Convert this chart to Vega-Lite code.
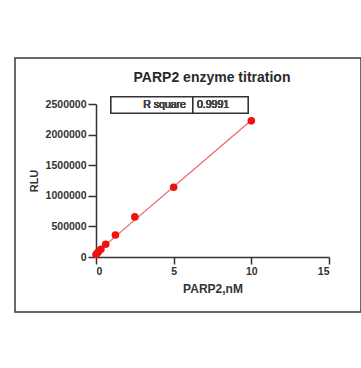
{
  "$schema": "https://vega.github.io/schema/vega-lite/v6.json",
  "autosize": {"type": "none"},
  "width": 346,
  "height": 254,
  "padding": {"left": 15, "top": 58, "right": 0, "bottom": 56},
  "background": "white",
  "config": {
    "view": {"stroke": "#3a3a3a", "strokeWidth": 1.5},
    "font": "Liberation Sans"
  },
  "title": {
    "text": "PARP2 enzyme titration",
    "fontSize": 14,
    "fontWeight": "bold",
    "font": "Liberation Sans",
    "color": "#2a2a2a",
    "anchor": "middle",
    "dx": 24,
    "dy": 31
  },
  "data": {
    "values": [
      {"conc": 0, "RLU": 40000},
      {"conc": 0.078, "RLU": 60000},
      {"conc": 0.156, "RLU": 85000},
      {"conc": 0.3125, "RLU": 125000},
      {"conc": 0.625, "RLU": 208000},
      {"conc": 1.25, "RLU": 360000},
      {"conc": 2.5, "RLU": 655000},
      {"conc": 5, "RLU": 1140000},
      {"conc": 10, "RLU": 2225000}
    ]
  },
  "layer": [
    {
      "transform": [{"regression": "RLU", "on": "conc"}],
      "mark": {"type": "line", "color": "#f06060", "strokeWidth": 1.2},
      "encoding": {
        "x": {
          "field": "conc", "type": "quantitative",
          "scale": {"domain": [0, 15], "range": [81, 314], "nice": false},
          "axis": {
            "orient": "bottom", "offset": -55, "values": [0, 5, 10, 15],
            "grid": false, "title": "PARP2,nM",
            "labelFontSize": 10.5, "labelFontWeight": "bold", "labelColor": "#333",
            "labelPadding": 2, "tickSize": 7, "tickWidth": 1.5, "tickColor": "#333",
            "domainColor": "#333", "domainWidth": 1.5,
            "titleFontSize": 12, "titleFontWeight": "bold", "titleColor": "#333",
            "titlePadding": 7
          }
        },
        "y": {
          "field": "RLU", "type": "quantitative",
          "scale": {"domain": [0, 2500000], "range": [199, 46], "nice": false},
          "axis": {
            "orient": "left", "offset": -81,
            "values": [0, 500000, 1000000, 1500000, 2000000, 2500000],
            "format": "d", "grid": false, "title": "RLU",
            "labelFontSize": 10.5, "labelFontWeight": "bold", "labelColor": "#333",
            "labelPadding": 2, "tickSize": 8, "tickWidth": 1.5, "tickColor": "#333",
            "domainColor": "#333", "domainWidth": 1.5,
            "titleFontSize": 11, "titleFontWeight": "bold", "titleColor": "#333",
            "titlePadding": 6
          }
        }
      }
    },
    {
      "mark": {"type": "circle", "color": "#f01010", "opacity": 1, "size": 58},
      "encoding": {
        "x": {"field": "conc", "type": "quantitative", "scale": {"domain": [0, 15], "range": [81, 314], "nice": false}},
        "y": {"field": "RLU", "type": "quantitative", "scale": {"domain": [0, 2500000], "range": [199, 46], "nice": false}}
      }
    },
    {
      "mark": {"type": "rect", "fill": "white", "stroke": "#333", "strokeWidth": 1.2},
      "encoding": {
        "x": {"datum": 0.966, "type": "quantitative", "scale": {"domain": [0, 15], "range": [81, 314], "nice": false}},
        "x2": {"datum": 6.245},
        "y": {"datum": 2614000, "type": "quantitative", "scale": {"domain": [0, 2500000], "range": [199, 46], "nice": false}},
        "y2": {"datum": 2353000}
      }
    },
    {
      "mark": {"type": "rect", "fill": "white", "stroke": "#333", "strokeWidth": 1.2},
      "encoding": {
        "x": {"datum": 6.245, "type": "quantitative", "scale": {"domain": [0, 15], "range": [81, 314], "nice": false}},
        "x2": {"datum": 9.786},
        "y": {"datum": 2614000, "type": "quantitative", "scale": {"domain": [0, 2500000], "range": [199, 46], "nice": false}},
        "y2": {"datum": 2353000}
      }
    },
    {
      "mark": {"type": "text", "align": "right", "baseline": "middle", "fontSize": 10.5, "fontWeight": "normal", "color": "#444", "font": "Liberation Sans"},
      "encoding": {
        "x": {"datum": 5.79, "type": "quantitative", "scale": {"domain": [0, 15], "range": [81, 314], "nice": false}},
        "y": {"datum": 2484000, "type": "quantitative", "scale": {"domain": [0, 2500000], "range": [199, 46], "nice": false}},
        "text": {"value": "R square"}
      }
    },
    {
      "mark": {"type": "text", "align": "left", "baseline": "middle", "fontSize": 10.5, "fontWeight": "normal", "color": "#444", "font": "Liberation Sans"},
      "encoding": {
        "x": {"datum": 6.5, "type": "quantitative", "scale": {"domain": [0, 15], "range": [81, 314], "nice": false}},
        "y": {"datum": 2484000, "type": "quantitative", "scale": {"domain": [0, 2500000], "range": [199, 46], "nice": false}},
        "text": {"value": "0.9991"}
      }
    }
  ]
}
